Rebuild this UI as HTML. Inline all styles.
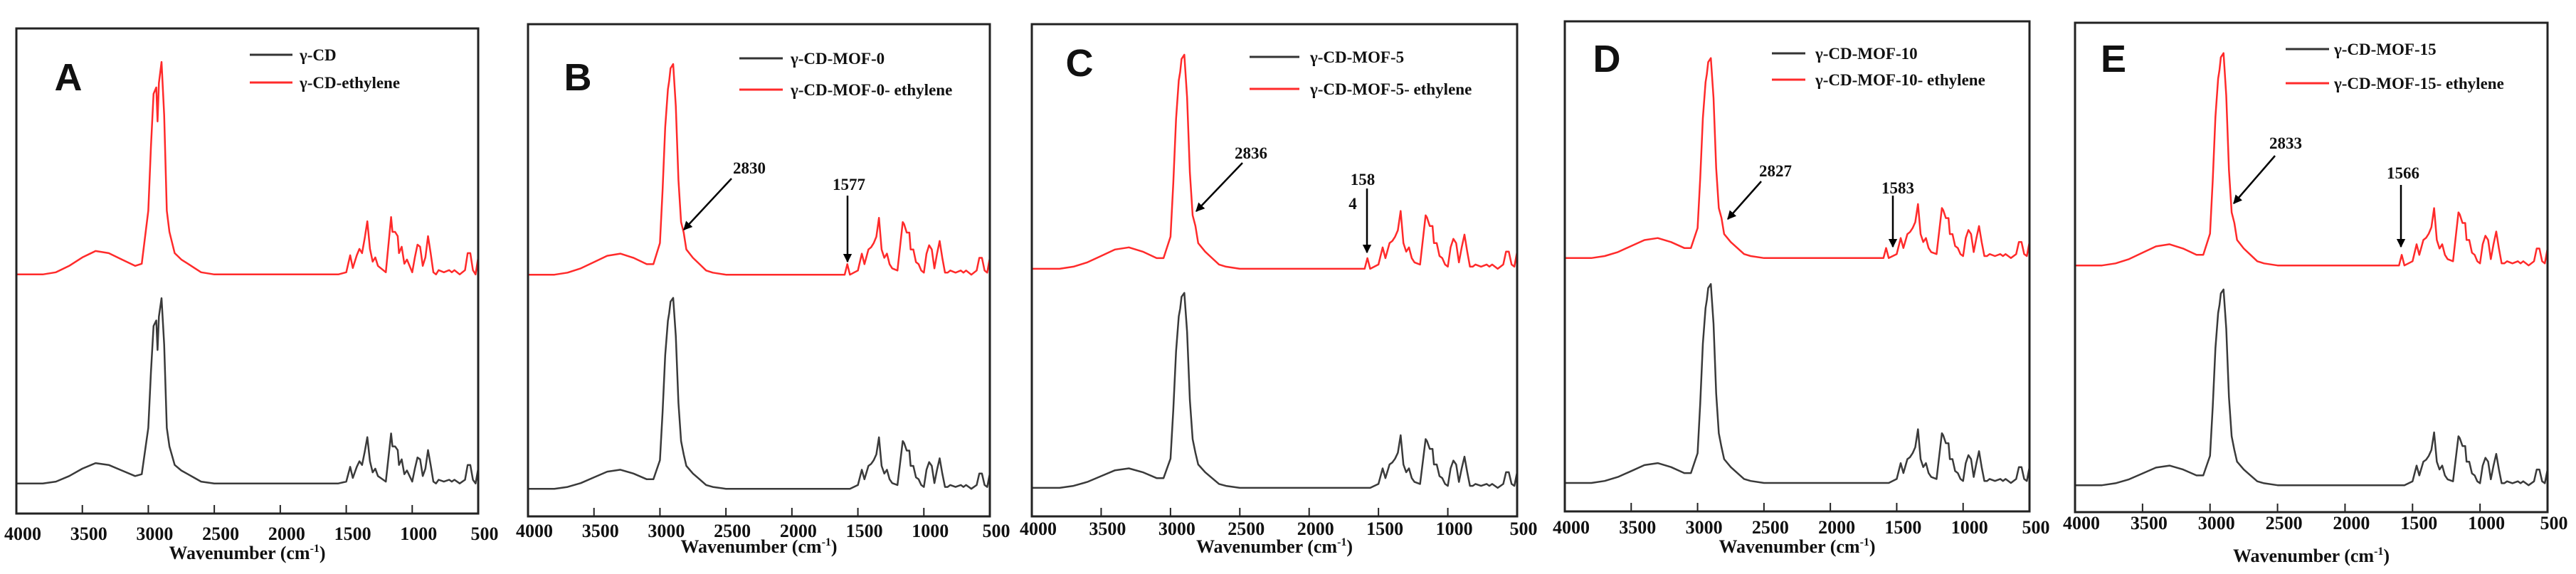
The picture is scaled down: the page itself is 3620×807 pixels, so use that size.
<!DOCTYPE html>
<html><head><meta charset="utf-8"><style>
html,body{margin:0;padding:0;background:#fff;}
svg{display:block;}
text{font-family:"Liberation Serif",serif;font-weight:bold;fill:#111;}
.lt{font-family:"Liberation Sans",sans-serif;}
</style></head><body>
<svg id="fig" width="3620" height="807" viewBox="0 0 3620 807" xmlns="http://www.w3.org/2000/svg"></svg>
<script>
const wn = [4000,3800,3700,3600,3500,3400,3300,3200,3100,3050,3000,2980,2960,2940,2930,2920,2900,2880,2860,2840,2820,2800,2750,2700,2650,2600,2500,2000,1600,1580,1560,1500,1470,1450,1420,1400,1380,1360,1340,1320,1300,1280,1260,1240,1200,1160,1150,1130,1110,1100,1080,1060,1040,1020,1000,980,960,940,920,900,880,860,840,820,800,760,720,700,680,640,600,580,560,540,520,500];
const cdProfile = [0,0,0.01,0.04,0.08,0.11,0.1,0.07,0.04,0.05,0.3,0.6,0.85,0.88,0.72,0.9,1.0,0.75,0.3,0.2,0.15,0.1,0.07,0.05,0.03,0.01,0,0,0,0,0,0.01,0.09,0.03,0.09,0.12,0.1,0.17,0.25,0.12,0.06,0.08,0.04,0.03,0.01,0.27,0.2,0.2,0.18,0.1,0.13,0.05,0.07,0.04,0.01,0.08,0.14,0.13,0.04,0.08,0.18,0.1,0.01,0,0.02,0.01,0.02,0.01,0.02,0,0.02,0.1,0.1,0.02,0,0.08];
const mofProfile = [0,0,0.01,0.03,0.06,0.09,0.1,0.08,0.05,0.05,0.15,0.4,0.7,0.88,0.92,0.98,1.0,0.8,0.45,0.25,0.18,0.12,0.08,0.05,0.02,0.01,0,0,0,0,0,0.02,0.1,0.05,0.12,0.13,0.15,0.18,0.27,0.12,0.08,0.1,0.05,0.03,0.02,0.25,0.24,0.2,0.2,0.12,0.12,0.06,0.05,0.02,0.01,0.1,0.14,0.12,0.03,0.1,0.16,0.08,0.01,0.01,0.02,0.01,0.02,0.01,0.02,0,0.02,0.08,0.08,0.02,0.01,0.08];
const mofEthProfile = [0,0,0.01,0.03,0.06,0.09,0.1,0.08,0.05,0.05,0.15,0.4,0.7,0.88,0.92,0.98,1.0,0.8,0.45,0.25,0.2,0.12,0.08,0.05,0.02,0.01,0,0,0,0.05,0,0.02,0.1,0.05,0.12,0.13,0.15,0.18,0.27,0.12,0.08,0.1,0.05,0.03,0.02,0.25,0.24,0.2,0.2,0.12,0.12,0.06,0.05,0.02,0.01,0.1,0.14,0.12,0.03,0.1,0.16,0.08,0.01,0.01,0.02,0.01,0.02,0.01,0.02,0,0.02,0.08,0.08,0.02,0.01,0.08];
const panelLetters = ["A","B","C","D","E"];
const blackNames = ["γ-CD","γ-CD-MOF-0","γ-CD-MOF-5","γ-CD-MOF-10","γ-CD-MOF-15"];
const redNames = ["γ-CD-ethylene","γ-CD-MOF-0- ethylene","γ-CD-MOF-5- ethylene","γ-CD-MOF-10- ethylene","γ-CD-MOF-15- ethylene"];
const redBase = [49.3,49.1,50.3,51.7,50.4];
const redPeak = [93.1,91.9,93.8,92.5,93.8];
const blackBase = [6.2,5.6,5.8,5.8,5.5];
const blackPeak = [44.4,44.4,45.4,46.4,45.5];
const xTicks = [4000,3500,3000,2500,2000,1500,1000,500];
const shoulderLabels = [null,"2830","2836","2827","2833"];
const shoulderWn = [null,2830,2836,2827,2833];
const ethLabels = [null,"1577","158|4","1583","1566"];
const ethWn = [null,1577,1584,1583,1566];

// layout (not data)
const boxes = [
 {l:23,r:672,t:40,b:722,tickY:750,labY:777,letX:96,letY:108,legLine:[351,411],legX:421,legY:[77,116]},
 {l:742,r:1391,t:34,b:726,tickY:746,labY:768,letX:812,letY:108,legLine:[1039,1100],legX:1111,legY:[82,126]},
 {l:1450,r:2132,t:34,b:726,tickY:743,labY:768,letX:1517,letY:88,legLine:[1756,1826],legX:1841,legY:[80,125]},
 {l:2199,r:2852,t:30,b:719,tickY:741,labY:768,letX:2258,letY:82,legLine:[2490,2537],legX:2551,legY:[75,112]},
 {l:2916,r:3580,t:32,b:720,tickY:735,labY:781,letX:2970,letY:82,legLine:[3212,3273],legX:3280,legY:[69,117]}
];
const annot = [null,
 {tx:1053,ty:236,a:[1028,251,961,323],ex:1193,ey:259,v:[1191,275,368]},
 {tx:1758,ty:215,a:[1746,229,1681,297],ex:1915,ey:252,v:[1921,265,355]},
 {tx:2495,ty:240,a:[2475,255,2428,308],ex:2667,ey:264,v:[2660,275,347]},
 {tx:3212,ty:201,a:[3197,219,3139,286],ex:3377,ey:243,v:[3374,260,347]}];

const NS="http://www.w3.org/2000/svg";
const svg=document.getElementById('fig');
function mk(tag,attrs,parent){const e=document.createElementNS(NS,tag);for(const k in attrs)e.setAttribute(k,attrs[k]);(parent||svg).appendChild(e);return e;}
const defs=mk('defs',{});
const mkr=mk('marker',{id:'ah',viewBox:'0 0 10 10',refX:'9',refY:'5',markerWidth:'5',markerHeight:'5',orient:'auto'},defs);
mk('path',{d:'M0,0 L10,5 L0,10 z',fill:'#000'},mkr);

boxes.forEach((B,i)=>{
  const g=mk('g',{});
  
  
  const xs=w=>B.l+(4000-w)/3500*(B.r-B.l);
  const ys=v=>B.b-v/100*(B.b-B.t);
  function trace(profile,base,peak,color,name){
    let d='';
    wn.forEach((w,k)=>{const v=base+profile[k]*(peak-base);d+=(k?'L':'M')+xs(w).toFixed(1)+','+ys(v).toFixed(1);});
    const p=mk('path',{d:d,fill:'none',stroke:color,'stroke-width':2.5,'stroke-linejoin':'round'},g);
    
    
  }
  const bp = i===0?cdProfile:mofProfile;
  const rp = i===0?cdProfile:mofEthProfile;
  trace(bp,blackBase[i],blackPeak[i],'#3a3a3a','black-spectrum');
  trace(rp,redBase[i],redPeak[i],'#ff2a2a','red-spectrum');
  const fr=mk('rect',{x:B.l,y:B.t,width:B.r-B.l,height:B.b-B.t,fill:'none',stroke:'#222','stroke-width':3},g);
  
  
  xTicks.forEach(t=>{
    const x=xs(t);
    mk('line',{x1:x,x2:x,y1:B.b,y2:B.b-12,stroke:'#222','stroke-width':2},g);
    const tl=mk('text',{x:x+9,y:B.tickY+9,'font-size':26,'text-anchor':'middle'},g);
    tl.textContent=t;
    
    
  });
  const xl=mk('text',{x:(B.l+B.r)/2,y:B.labY+9,'font-size':26,'text-anchor':'middle'},g);
  xl.innerHTML='Wavenumber (cm<tspan dy="-10" font-size="16">-1</tspan><tspan dy="10">)</tspan>';
  
  
  const lt=mk('text',{x:B.letX,y:B.letY+19,'font-size':54,'text-anchor':'middle',class:'lt'},g);
  lt.textContent=panelLetters[i];
  
  
  [[blackNames[i],'#333'],[redNames[i],'#ff2a2a']].forEach((e,j)=>{
    const y=B.legY[j];
    const ll=mk('line',{x1:B.legLine[0],x2:B.legLine[1],y1:y,y2:y,stroke:e[1],'stroke-width':3},g);
    
    
    const tx=mk('text',{x:B.legX,y:y+8,'font-size':23},g);
    tx.textContent=e[0];
    
    
  });
  const A=annot[i];
  if(A){
    const t1=mk('text',{x:A.tx,y:A.ty+8,'font-size':23,'text-anchor':'middle'},g);
    t1.textContent=shoulderLabels[i];
    
    
    mk('line',{x1:A.a[0],y1:A.a[1],x2:A.a[2],y2:A.a[3],stroke:'#000','stroke-width':2.5,'marker-end':'url(#ah)'},g);
    const parts=ethLabels[i].split('|');
    parts.forEach((p,k)=>{
      const t2=mk('text',{x:A.ex-(k?14:0),y:A.ey+8+k*34,'font-size':23,'text-anchor':'middle'},g);
      t2.textContent=p;
      
      
    });
    mk('line',{x1:A.v[0],y1:A.v[1],x2:A.v[0],y2:A.v[2],stroke:'#000','stroke-width':2.5,'marker-end':'url(#ah)'},g);
  }
});
</script>
</body></html>
